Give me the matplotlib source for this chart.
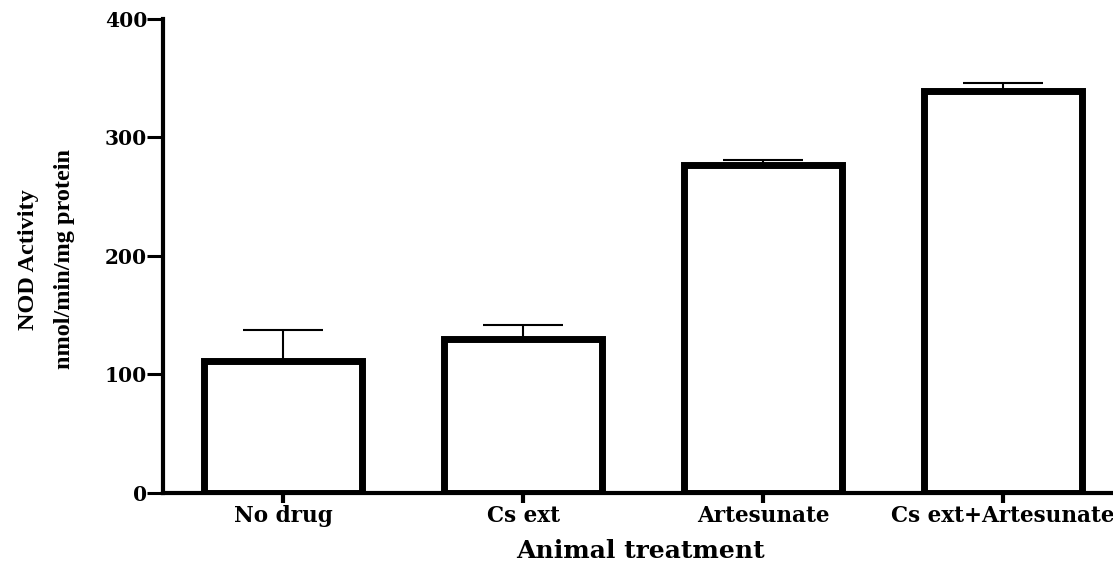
import matplotlib
matplotlib.use("Agg")
import matplotlib.pyplot as plt

# NOD activity per treatment group (mean, upper SEM)
groups = ["No drug", "Cs ext", "Artesunate", "Cs ext+Artesunate"]
nod_mean = [111, 130, 277, 339]
nod_err = [26, 11.5, 4, 7]
yticks = [0, 100, 200, 300, 400]

fig = plt.figure(figsize=(11.13, 5.61), dpi=100)
ax = fig.add_axes([0.1465, 0.1217, 0.8625, 0.8445])

x = list(range(len(groups)))
ax.bar(x, nod_mean, width=0.66, color="white", edgecolor="black",
       linewidth=5, zorder=2)
ax.errorbar(x, nod_mean, yerr=[[0] * len(nod_err), nod_err], fmt="none",
            ecolor="black", elinewidth=1.5, capsize=29, capthick=1.5, zorder=1)

ax.set_xlim(-0.5, 3.5)
ax.set_ylim(0, 400)
ax.set_yticks(yticks)
ax.set_xticks(x)
ax.set_xticklabels(groups)

for side in ["top", "right"]:
    ax.spines[side].set_visible(False)
for side in ["left", "bottom"]:
    ax.spines[side].set_linewidth(3)

ax.tick_params(axis="y", length=11.5, width=2.2, pad=0)
ax.tick_params(axis="x", length=7, width=3, pad=2)

for lab in ax.get_yticklabels():
    lab.set(family="DejaVu Serif", weight="bold", size=14.5)
for lab in ax.get_xticklabels():
    lab.set(family="DejaVu Serif", weight="bold", size=15.5)

fig.text(0.575, 0.006, "Animal treatment", ha="center", va="baseline",
         family="DejaVu Serif", weight="bold", size=18)
fig.text(0.042, 0.538, "NOD Activity\nnmol/min/mg protein", rotation=90,
         ha="center", va="center", multialignment="center", linespacing=1.95,
         family="Liberation Serif", weight="bold", size=17.5)

fig.savefig("out.png", dpi=100)
